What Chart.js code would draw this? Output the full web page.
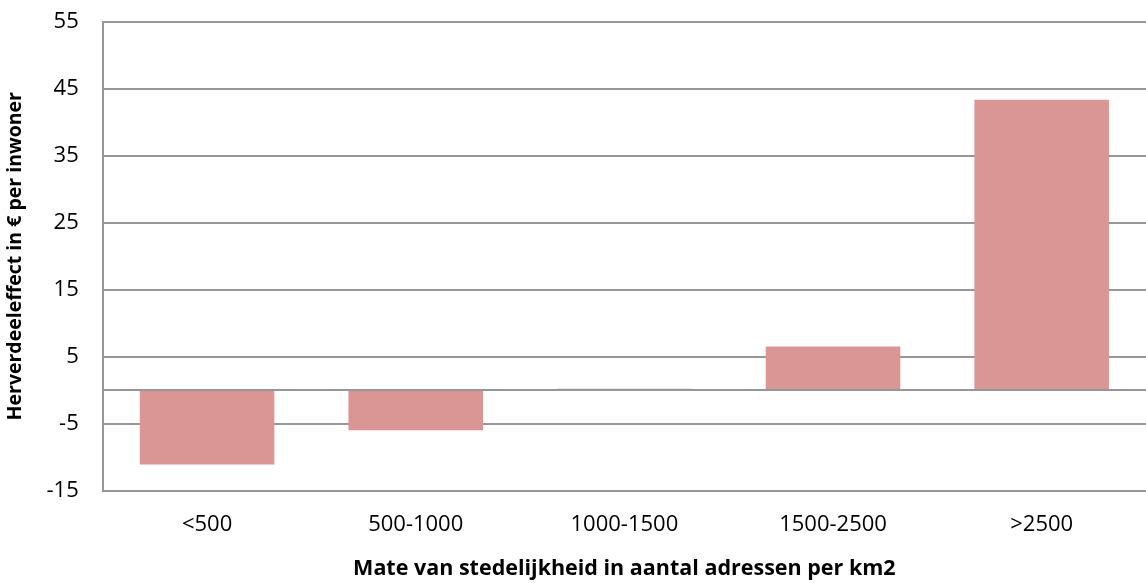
<!DOCTYPE html>
<html>
<head>
<meta charset="utf-8">
<script src="https://cdn.jsdelivr.net/npm/chart.js@4"></script>
<style>
  html, body { margin: 0; padding: 0; background: #fff; }
  #wrap { width: 1146px; height: 583px; position: relative; }
</style>
</head>
<body>
<div id="wrap"><canvas id="myChart"></canvas></div>
<script>
const categories = ['<500', '500-1000', '1000-1500', '1500-2500', '>2500'];
const values = [-11.1, -6.0, 0.2, 6.5, 43.4];
const yTicks = [-15, -5, 5, 15, 25, 35, 45, 55];

const ctx = document.getElementById('myChart').getContext('2d');
const gridGray = '#979797';

const myChart = new Chart(ctx, {
  type: 'bar',
  data: {
    labels: categories,
    datasets: [{
      data: values,
      backgroundColor: '#D99694',
      borderWidth: 0,
      barPercentage: 0.645,
      categoryPercentage: 1
    }]
  },
  options: {
    responsive: true,
    maintainAspectRatio: false,
    animation: false,
    layout: { padding: { top: 22, right: 0, bottom: 0, left: 6 } },
    plugins: { legend: { display: false }, tooltip: { enabled: false } },
    scales: {
      x: {
        grid: { display: false, drawTicks: false },
        border: { color: gridGray, width: 2 },
        ticks: { color: '#000', font: { family: 'Open Sans', size: 22, lineHeight: 1.0 }, padding: 23 },
        title: {
          display: true,
          text: 'Mate van stedelijkheid in aantal adressen per km2',
          color: '#000',
          font: { family: 'Open Sans', size: 21.5, weight: 'bold', lineHeight: 1.0 },
          padding: { top: 0, bottom: 3 }
        }
      },
      y: {
        min: yTicks[0],
        max: yTicks[yTicks.length - 1],
        afterBuildTicks: (axis) => {
          // tick labels from the list, plus the zero line of the category axis
          const t = yTicks.map(v => ({ value: v }));
          t.push({ value: 0 });
          t.sort((a, b) => a.value - b.value);
          axis.ticks = t;
        },
        afterFit: (axis) => {
          axis.paddingTop = 0;
          axis.paddingBottom = 0;
        },
        grid: { color: gridGray, lineWidth: 2, drawTicks: false },
        border: { color: gridGray, width: 2 },
        ticks: {
          color: '#000',
          font: { family: 'Open Sans', size: 22, lineHeight: 1.0 },
          padding: 24,
          callback: (v) => (v === 0 ? '' : v)
        },
        title: {
          display: true,
          text: 'Herverdeeleffect in € per inwoner',
          color: '#000',
          font: { family: 'Open Sans', size: 19.5, weight: 'bold', lineHeight: 1.0 },
          padding: { top: 0, bottom: -3 }
        }
      }
    }
  }
});
</script>
</body>
</html>
